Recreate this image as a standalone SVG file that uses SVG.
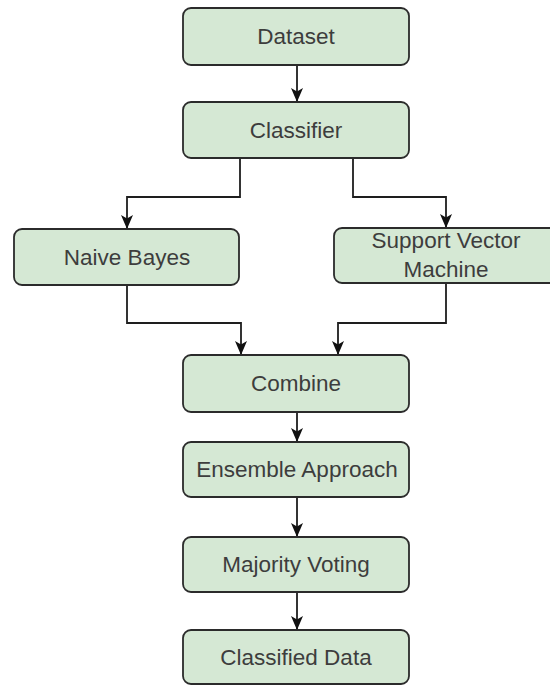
<svg xmlns="http://www.w3.org/2000/svg" width="550" height="685" viewBox="0 0 550 685">
  <style>
    .box { fill: #d5e8d4; stroke: #2b2b2b; stroke-width: 1.8; }
    .lbl { font-family: "Liberation Sans", Arial, sans-serif; font-size: 22.5px; fill: #3d3d3d; text-anchor: middle; }
    .edge { fill: none; stroke: #1e1e1e; stroke-width: 1.8; marker-end: url(#arrow); }
  </style>
  <defs>
    <marker id="arrow" viewBox="0 0 14 12" refX="14" refY="6" markerWidth="14" markerHeight="12" markerUnits="userSpaceOnUse" orient="auto">
      <path d="M0,0 L14,6 L0,12 L3.5,6 z" fill="#111"/>
    </marker>
  </defs>
  <rect width="550" height="685" fill="#ffffff"/>

  <g id="connectors">
    <path class="edge" d="M297,65 L297,102"/>
    <path class="edge" d="M240,158 L240,197 L127,197 L127,229"/>
    <path class="edge" d="M353,158 L353,197 L446,197 L446,228"/>
    <path class="edge" d="M127,285 L127,323 L241,323 L241,355"/>
    <path class="edge" d="M446,283 L446,323 L338,323 L338,355"/>
    <path class="edge" d="M297,412 L297,442"/>
    <path class="edge" d="M297,497 L297,537"/>
    <path class="edge" d="M297,592 L297,630"/>
  </g>

  <g id="dataset">
    <rect class="box" x="183" y="8" width="226" height="57" rx="8"/>
    <text class="lbl" x="296" y="44">Dataset</text>
  </g>
  <g id="classifier">
    <rect class="box" x="183" y="102" width="226" height="56" rx="8"/>
    <text class="lbl" x="296" y="138">Classifier</text>
  </g>
  <g id="naive-bayes">
    <rect class="box" x="14" y="229" width="225" height="56" rx="8"/>
    <text class="lbl" x="127" y="265">Naive Bayes</text>
  </g>
  <g id="svm">
    <rect class="box" x="334" y="228" width="226" height="55" rx="8"/>
    <text class="lbl" x="446" y="248">Support Vector</text>
    <text class="lbl" x="446" y="277">Machine</text>
  </g>
  <g id="combine">
    <rect class="box" x="183" y="355" width="226" height="57" rx="8"/>
    <text class="lbl" x="296" y="391">Combine</text>
  </g>
  <g id="ensemble">
    <rect class="box" x="183" y="442" width="226" height="55" rx="8"/>
    <text class="lbl" x="297" y="477">Ensemble Approach</text>
  </g>
  <g id="majority-voting">
    <rect class="box" x="183" y="537" width="226" height="55" rx="8"/>
    <text class="lbl" x="296" y="572">Majority Voting</text>
  </g>
  <g id="classified-data">
    <rect class="box" x="183" y="630" width="226" height="54" rx="8"/>
    <text class="lbl" x="296" y="665">Classified Data</text>
  </g>
</svg>
